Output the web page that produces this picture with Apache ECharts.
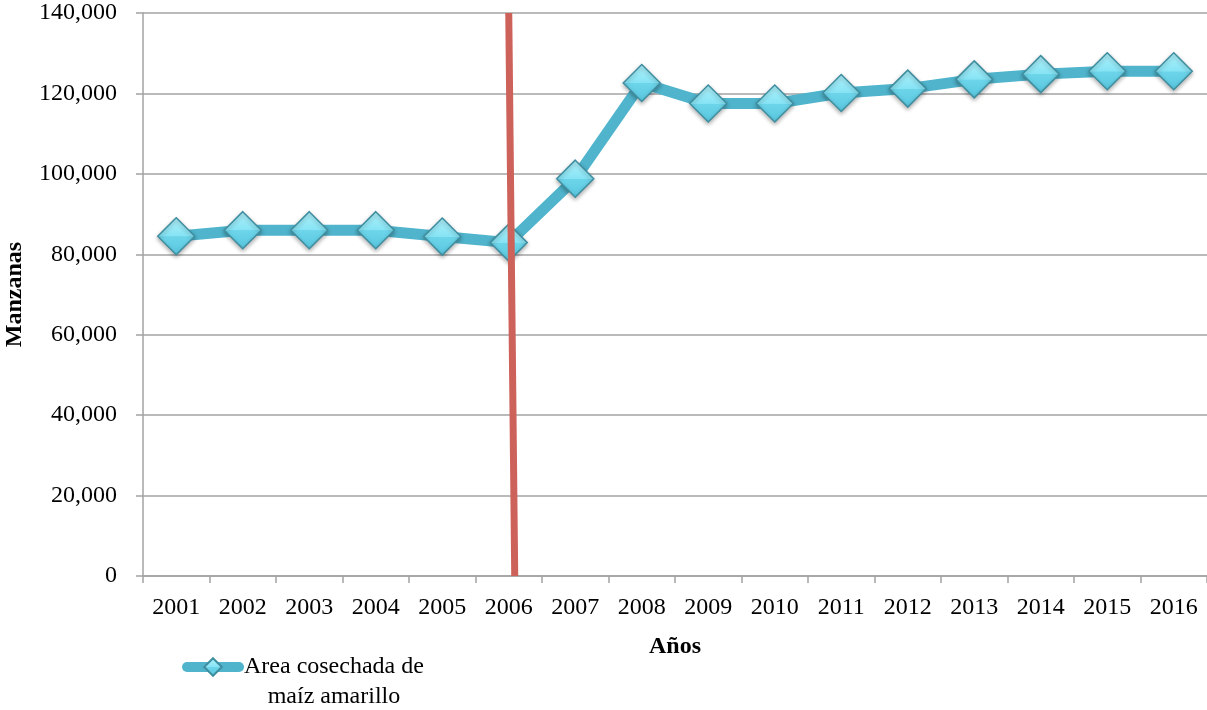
<!DOCTYPE html>
<html>
<head>
<meta charset="utf-8">
<script src="https://cdn.jsdelivr.net/npm/echarts@6/dist/echarts.min.js"></script>
<style>html,body{margin:0;padding:0;background:#fff}#c{width:1207px;height:710px}</style>
</head>
<body>
<div id="c"></div>
<script>
const years = ['2001','2002','2003','2004','2005','2006','2007','2008','2009','2010','2011','2012','2013','2014','2015','2016'];
const area = [84500, 86000, 86000, 86000, 84400, 82900, 98800, 122600, 117500, 117500, 120100, 121200, 123500, 124800, 125500, 125500];
const yTicks = [0, 20000, 40000, 60000, 80000, 100000, 120000, 140000];
// vertical marker line near 2006 (x in category units, y in manzanas)
const redLine = [[5.50, 140000], [5.59, 0]];
const seriesName = 'Area cosechada de\nmaíz amarillo';

const FONT = 'Liberation Serif';
const GRID = '#a3a3a3';
const chart = echarts.init(document.getElementById('c'));
chart.setOption({
  animation: false,
  textStyle: { fontFamily: FONT },
  grid: { left: 143, right: 0, top: 13, bottom: 134, containLabel: false, outerBoundsMode: 'none' },
  legend: {
    left: 182, top: 655, padding: 0,
    itemWidth: 52, itemHeight: 22, itemGap: 5,
    data: [seriesName],
    lineStyle: { width: 10, cap: 'round' },
    formatter: function (n) {
      return n.split('\n').map(function (s) { return '{a|' + s + '}'; }).join('\n');
    },
    textStyle: {
      fontFamily: FONT, fontSize: 24, color: '#000', padding: [30, 0, 0, 0],
      rich: { a: { fontFamily: FONT, fontSize: 24, color: '#000', align: 'center', lineHeight: 30 } }
    }
  },
  xAxis: [{
    type: 'category', data: years, boundaryGap: true,
    name: 'Años', nameLocation: 'middle', nameGap: 59,
    nameTextStyle: { fontFamily: FONT, fontSize: 24, fontWeight: 'bold', color: '#000' },
    axisLine: { lineStyle: { color: GRID, width: 1.5 } },
    axisTick: { show: true, length: 7, lineStyle: { color: GRID, width: 1.5 } },
    axisLabel: { fontFamily: FONT, fontSize: 24, color: '#000', margin: 20, interval: 0 },
    splitLine: { show: false }
  }, {
    type: 'value', min: 0, max: 16, show: false
  }],
  yAxis: {
    type: 'value', min: yTicks[0], max: yTicks[yTicks.length - 1], interval: yTicks[1] - yTicks[0],
    name: 'Manzanas', nameLocation: 'middle', nameGap: 116, nameRotate: 90,
    nameTextStyle: { fontFamily: FONT, fontSize: 24, fontWeight: 'bold', color: '#000' },
    axisLine: { show: true, lineStyle: { color: GRID, width: 1.5 } },
    axisTick: { show: true, length: 7, lineStyle: { color: GRID, width: 1.5 } },
    axisLabel: {
      fontFamily: FONT, fontSize: 24, color: '#000', margin: 26,
      formatter: function (v) { return v.toLocaleString('en-US'); }
    },
    splitLine: { lineStyle: { color: GRID, width: 1.5 } }
  },
  series: [{
    name: seriesName, type: 'line', data: area, xAxisIndex: 0,
    symbol: 'diamond', symbolSize: 37,
    lineStyle: { color: '#4fb4cc', width: 11 },
    itemStyle: {
      color: {
        type: 'linear', x: 0, y: 0, x2: 0, y2: 1,
        colorStops: [
          { offset: 0, color: '#b2f3fd' },
          { offset: 0.5, color: '#86e3f4' },
          { offset: 0.51, color: '#6dd5ea' },
          { offset: 1, color: '#57c6de' }
        ]
      },
      borderColor: '#3f8ea0', borderWidth: 1.5,
      shadowBlur: 4, shadowColor: 'rgba(0,0,0,0.3)', shadowOffsetY: 2
    },
    z: 2
  }, {
    name: 'marker', type: 'line', xAxisIndex: 1, data: redLine,
    symbol: 'none', lineStyle: { color: '#cd625b', width: 7 }, z: 5, silent: true
  }]
});
</script>
</body>
</html>
